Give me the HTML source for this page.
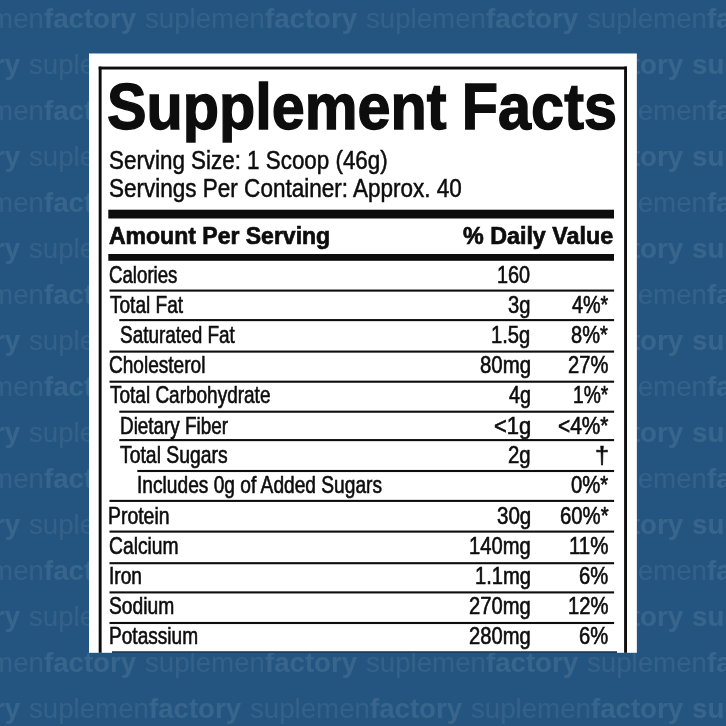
<!DOCTYPE html>
<html><head><meta charset="utf-8"><title>Supplement Facts</title>
<style>
html,body{margin:0;padding:0}
body{width:726px;height:726px;overflow:hidden;background:#245580;position:relative;font-family:"Liberation Sans",sans-serif}
.w{position:absolute;white-space:nowrap;font-size:27px;line-height:1;font-weight:400;color:rgba(255,255,255,0.075);transform-origin:0 0}
.w b{font-weight:700;color:rgba(255,255,255,0.095)}
.clip{position:absolute;left:0;top:0;width:726px;height:653px;overflow:hidden;filter:blur(0.5px)}
.t{position:absolute;white-space:nowrap;line-height:1;color:#0d0d0d;transform-origin:0 0}
.shapes{position:absolute;left:0;top:0}
</style></head><body>
<div class="w" style="left:-76.37px;top:6px;transform:scaleX(1.0244)">suplemen<b>factory</b></div>
<div class="w" style="left:144.63px;top:6px;transform:scaleX(1.0244)">suplemen<b>factory</b></div>
<div class="w" style="left:365.63px;top:6px;transform:scaleX(1.0244)">suplemen<b>factory</b></div>
<div class="w" style="left:586.63px;top:6px;transform:scaleX(1.0244)">suplemen<b>factory</b></div>
<div class="w" style="left:-191.77px;top:52px;transform:scaleX(1.0244)">suplemen<b>factory</b></div>
<div class="w" style="left:29.23px;top:52px;transform:scaleX(1.0244)">suplemen<b>factory</b></div>
<div class="w" style="left:250.23px;top:52px;transform:scaleX(1.0244)">suplemen<b>factory</b></div>
<div class="w" style="left:471.23px;top:52px;transform:scaleX(1.0244)">suplemen<b>factory</b></div>
<div class="w" style="left:692.23px;top:52px;transform:scaleX(1.0244)"><b>suplemenfactory</b></div>
<div class="w" style="left:-76.37px;top:98px;transform:scaleX(1.0244)">suplemen<b>factory</b></div>
<div class="w" style="left:586.63px;top:98px;transform:scaleX(1.0244)">suplemen<b>factory</b></div>
<div class="w" style="left:-191.77px;top:144px;transform:scaleX(1.0244)">suplemen<b>factory</b></div>
<div class="w" style="left:29.23px;top:144px;transform:scaleX(1.0244)">suplemen<b>factory</b></div>
<div class="w" style="left:471.23px;top:144px;transform:scaleX(1.0244)">suplemen<b>factory</b></div>
<div class="w" style="left:692.23px;top:144px;transform:scaleX(1.0244)"><b>suplemenfactory</b></div>
<div class="w" style="left:-76.37px;top:190px;transform:scaleX(1.0244)">suplemen<b>factory</b></div>
<div class="w" style="left:586.63px;top:190px;transform:scaleX(1.0244)">suplemen<b>factory</b></div>
<div class="w" style="left:-191.77px;top:236px;transform:scaleX(1.0244)">suplemen<b>factory</b></div>
<div class="w" style="left:29.23px;top:236px;transform:scaleX(1.0244)">suplemen<b>factory</b></div>
<div class="w" style="left:471.23px;top:236px;transform:scaleX(1.0244)">suplemen<b>factory</b></div>
<div class="w" style="left:692.23px;top:236px;transform:scaleX(1.0244)"><b>suplemenfactory</b></div>
<div class="w" style="left:-76.37px;top:282px;transform:scaleX(1.0244)">suplemen<b>factory</b></div>
<div class="w" style="left:586.63px;top:282px;transform:scaleX(1.0244)">suplemen<b>factory</b></div>
<div class="w" style="left:-191.77px;top:328px;transform:scaleX(1.0244)">suplemen<b>factory</b></div>
<div class="w" style="left:29.23px;top:328px;transform:scaleX(1.0244)">suplemen<b>factory</b></div>
<div class="w" style="left:471.23px;top:328px;transform:scaleX(1.0244)">suplemen<b>factory</b></div>
<div class="w" style="left:692.23px;top:328px;transform:scaleX(1.0244)"><b>suplemenfactory</b></div>
<div class="w" style="left:-76.37px;top:374px;transform:scaleX(1.0244)">suplemen<b>factory</b></div>
<div class="w" style="left:586.63px;top:374px;transform:scaleX(1.0244)">suplemen<b>factory</b></div>
<div class="w" style="left:-191.77px;top:420px;transform:scaleX(1.0244)">suplemen<b>factory</b></div>
<div class="w" style="left:29.23px;top:420px;transform:scaleX(1.0244)">suplemen<b>factory</b></div>
<div class="w" style="left:471.23px;top:420px;transform:scaleX(1.0244)">suplemen<b>factory</b></div>
<div class="w" style="left:692.23px;top:420px;transform:scaleX(1.0244)"><b>suplemenfactory</b></div>
<div class="w" style="left:-76.37px;top:466px;transform:scaleX(1.0244)">suplemen<b>factory</b></div>
<div class="w" style="left:586.63px;top:466px;transform:scaleX(1.0244)">suplemen<b>factory</b></div>
<div class="w" style="left:-191.77px;top:512px;transform:scaleX(1.0244)">suplemen<b>factory</b></div>
<div class="w" style="left:29.23px;top:512px;transform:scaleX(1.0244)">suplemen<b>factory</b></div>
<div class="w" style="left:471.23px;top:512px;transform:scaleX(1.0244)">suplemen<b>factory</b></div>
<div class="w" style="left:692.23px;top:512px;transform:scaleX(1.0244)"><b>suplemenfactory</b></div>
<div class="w" style="left:-76.37px;top:558px;transform:scaleX(1.0244)">suplemen<b>factory</b></div>
<div class="w" style="left:586.63px;top:558px;transform:scaleX(1.0244)">suplemen<b>factory</b></div>
<div class="w" style="left:-191.77px;top:604px;transform:scaleX(1.0244)">suplemen<b>factory</b></div>
<div class="w" style="left:29.23px;top:604px;transform:scaleX(1.0244)">suplemen<b>factory</b></div>
<div class="w" style="left:471.23px;top:604px;transform:scaleX(1.0244)">suplemen<b>factory</b></div>
<div class="w" style="left:692.23px;top:604px;transform:scaleX(1.0244)"><b>suplemenfactory</b></div>
<div class="w" style="left:-76.37px;top:650px;transform:scaleX(1.0244)">suplemen<b>factory</b></div>
<div class="w" style="left:144.63px;top:650px;transform:scaleX(1.0244)">suplemen<b>factory</b></div>
<div class="w" style="left:365.63px;top:650px;transform:scaleX(1.0244)">suplemen<b>factory</b></div>
<div class="w" style="left:586.63px;top:650px;transform:scaleX(1.0244)">suplemen<b>factory</b></div>
<div class="w" style="left:-191.77px;top:696px;transform:scaleX(1.0244)">suplemen<b>factory</b></div>
<div class="w" style="left:29.23px;top:696px;transform:scaleX(1.0244)">suplemen<b>factory</b></div>
<div class="w" style="left:250.23px;top:696px;transform:scaleX(1.0244)">suplemen<b>factory</b></div>
<div class="w" style="left:471.23px;top:696px;transform:scaleX(1.0244)">suplemen<b>factory</b></div>
<div class="w" style="left:692.23px;top:696px;transform:scaleX(1.0244)"><b>suplemenfactory</b></div>
<div class="clip">
<svg class="shapes" width="726" height="726" viewBox="0 0 726 726"><rect x="89" y="53.5" width="547.85" height="599.3" fill="#fff"/>
<rect x="98.7" y="66.6" width="2.9" height="586.2" fill="#0d0d0d"/>
<rect x="624.1" y="66.6" width="2.9" height="586.2" fill="#0d0d0d"/>
<rect x="98.7" y="66.6" width="528.3" height="2.9" fill="#0d0d0d"/>
<rect x="108.3" y="209.7" width="505.7" height="8.8" fill="#0d0d0d"/>
<rect x="108.3" y="254.0" width="505.7" height="6.8" fill="#0d0d0d"/>
<rect x="109.5" y="289.55" width="504.6" height="2.1" fill="#0d0d0d"/>
<rect x="119.3" y="319.05" width="494.8" height="2.1" fill="#0d0d0d"/>
<rect x="109.5" y="350.55" width="504.6" height="2.1" fill="#0d0d0d"/>
<rect x="109.5" y="380.65" width="504.6" height="2.1" fill="#0d0d0d"/>
<rect x="119.3" y="410.65" width="494.8" height="2.1" fill="#0d0d0d"/>
<rect x="119.3" y="439.05" width="494.8" height="2.1" fill="#0d0d0d"/>
<rect x="137.3" y="469.95" width="476.8" height="2.1" fill="#0d0d0d"/>
<rect x="109.5" y="499.85" width="504.6" height="2.1" fill="#0d0d0d"/>
<rect x="109.5" y="530.55" width="504.6" height="2.1" fill="#0d0d0d"/>
<rect x="109.5" y="562.15" width="504.6" height="2.1" fill="#0d0d0d"/>
<rect x="109.5" y="591.35" width="504.6" height="2.1" fill="#0d0d0d"/>
<rect x="109.5" y="621.95" width="504.6" height="2.1" fill="#0d0d0d"/>
<rect x="112" y="651.2" width="505" height="1.8" fill="#1f3d5f"/></svg>
<div class="t" style="left:107.10px;top:74px;font-size:65.5px;font-weight:700;-webkit-text-stroke:1.4px #0d0d0d;word-spacing:-1.4px;transform:scaleX(0.9061)">Supplement Facts</div>
<div class="t" style="left:108.65px;top:148px;font-size:25.5px;font-weight:400;-webkit-text-stroke:0.5px #0d0d0d;transform:scaleX(0.8778)">Serving Size: 1 Scoop (46g)</div>
<div class="t" style="left:108.65px;top:176px;font-size:25.5px;font-weight:400;-webkit-text-stroke:0.5px #0d0d0d;transform:scaleX(0.8828)">Servings Per Container: Approx. 40</div>
<div class="t" style="left:109.13px;top:224px;font-size:24px;font-weight:700;-webkit-text-stroke:0.7px #0d0d0d;transform:scaleX(0.9586)">Amount Per Serving</div>
<div class="t" style="left:463.46px;top:224px;font-size:24px;font-weight:700;-webkit-text-stroke:0.7px #0d0d0d;transform:scaleX(0.9700)">% Daily Value</div>
<div class="t" style="left:108.69px;top:264px;font-size:23.2px;font-weight:400;-webkit-text-stroke:0.6px #0d0d0d;transform:scaleX(0.8048)">Calories</div>
<div class="t" style="left:497.20px;top:264px;font-size:23.2px;font-weight:400;-webkit-text-stroke:0.6px #0d0d0d;transform:scaleX(0.8556)">160</div>
<div class="t" style="left:109.79px;top:294px;font-size:23.2px;font-weight:400;-webkit-text-stroke:0.6px #0d0d0d;transform:scaleX(0.8215)">Total Fat</div>
<div class="t" style="left:508.40px;top:294px;font-size:23.2px;font-weight:400;-webkit-text-stroke:0.6px #0d0d0d;transform:scaleX(0.8700)">3g</div>
<div class="t" style="left:571.87px;top:294px;font-size:23.2px;font-weight:400;-webkit-text-stroke:0.6px #0d0d0d;transform:scaleX(0.8530)">4%*</div>
<div class="t" style="left:119.98px;top:324px;font-size:23.2px;font-weight:400;-webkit-text-stroke:0.6px #0d0d0d;transform:scaleX(0.8172)">Saturated Fat</div>
<div class="t" style="left:491.44px;top:324px;font-size:23.2px;font-weight:400;-webkit-text-stroke:0.6px #0d0d0d;transform:scaleX(0.8700)">1.5g</div>
<div class="t" style="left:571.44px;top:324px;font-size:23.2px;font-weight:400;-webkit-text-stroke:0.6px #0d0d0d;transform:scaleX(0.8634)">8%*</div>
<div class="t" style="left:108.67px;top:354px;font-size:23.2px;font-weight:400;-webkit-text-stroke:0.6px #0d0d0d;transform:scaleX(0.8218)">Cholesterol</div>
<div class="t" style="left:479.72px;top:354px;font-size:23.2px;font-weight:400;-webkit-text-stroke:0.6px #0d0d0d;transform:scaleX(0.8811)">80mg</div>
<div class="t" style="left:568.22px;top:354px;font-size:23.2px;font-weight:400;-webkit-text-stroke:0.6px #0d0d0d;transform:scaleX(0.8678)">27%</div>
<div class="t" style="left:109.79px;top:384px;font-size:23.2px;font-weight:400;-webkit-text-stroke:0.6px #0d0d0d;transform:scaleX(0.8190)">Total Carbohydrate</div>
<div class="t" style="left:508.87px;top:384px;font-size:23.2px;font-weight:400;-webkit-text-stroke:0.6px #0d0d0d;transform:scaleX(0.8505)">4g</div>
<div class="t" style="left:572.85px;top:384px;font-size:23.2px;font-weight:400;-webkit-text-stroke:0.6px #0d0d0d;transform:scaleX(0.8298)">1%*</div>
<div class="t" style="left:120.07px;top:415px;font-size:23.2px;font-weight:400;-webkit-text-stroke:0.6px #0d0d0d;transform:scaleX(0.8138)">Dietary Fiber</div>
<div class="t" style="left:493.72px;top:415px;font-size:23.2px;font-weight:400;-webkit-text-stroke:0.6px #0d0d0d;transform:scaleX(0.9479)">&lt;1g</div>
<div class="t" style="left:557.58px;top:415px;font-size:23.2px;font-weight:400;-webkit-text-stroke:0.6px #0d0d0d;transform:scaleX(0.8991)">&lt;4%*</div>
<div class="t" style="left:120.48px;top:444px;font-size:23.2px;font-weight:400;-webkit-text-stroke:0.6px #0d0d0d;transform:scaleX(0.8360)">Total Sugars</div>
<div class="t" style="left:508.20px;top:444px;font-size:23.2px;font-weight:400;-webkit-text-stroke:0.6px #0d0d0d;transform:scaleX(0.8783)">2g</div>
<div class="t" style="left:595.47px;top:444px;font-size:23.2px;font-weight:400;-webkit-text-stroke:0.6px #0d0d0d;transform:scaleX(1.0872)">†</div>
<div class="t" style="left:137.24px;top:474px;font-size:23.2px;font-weight:400;-webkit-text-stroke:0.6px #0d0d0d;transform:scaleX(0.8265)">Includes 0g of Added Sugars</div>
<div class="t" style="left:570.92px;top:474px;font-size:23.2px;font-weight:400;-webkit-text-stroke:0.6px #0d0d0d;transform:scaleX(0.8756)">0%*</div>
<div class="t" style="left:108.03px;top:505px;font-size:23.2px;font-weight:400;-webkit-text-stroke:0.6px #0d0d0d;transform:scaleX(0.8371)">Protein</div>
<div class="t" style="left:496.51px;top:505px;font-size:23.2px;font-weight:400;-webkit-text-stroke:0.6px #0d0d0d;transform:scaleX(0.8855)">30g</div>
<div class="t" style="left:559.50px;top:505px;font-size:23.2px;font-weight:400;-webkit-text-stroke:0.6px #0d0d0d;transform:scaleX(0.8763)">60%*</div>
<div class="t" style="left:108.66px;top:535px;font-size:23.2px;font-weight:400;-webkit-text-stroke:0.6px #0d0d0d;transform:scaleX(0.8309)">Calcium</div>
<div class="t" style="left:469.08px;top:535px;font-size:23.2px;font-weight:400;-webkit-text-stroke:0.6px #0d0d0d;transform:scaleX(0.8694)">140mg</div>
<div class="t" style="left:569.05px;top:535px;font-size:23.2px;font-weight:400;-webkit-text-stroke:0.6px #0d0d0d;transform:scaleX(0.8833)">11%</div>
<div class="t" style="left:108.84px;top:565px;font-size:23.2px;font-weight:400;-webkit-text-stroke:0.6px #0d0d0d;transform:scaleX(0.8248)">Iron</div>
<div class="t" style="left:474.69px;top:565px;font-size:23.2px;font-weight:400;-webkit-text-stroke:0.6px #0d0d0d;transform:scaleX(0.8700)">1.1mg</div>
<div class="t" style="left:579.21px;top:565px;font-size:23.2px;font-weight:400;-webkit-text-stroke:0.6px #0d0d0d;transform:scaleX(0.8700)">6%</div>
<div class="t" style="left:108.87px;top:595px;font-size:23.2px;font-weight:400;-webkit-text-stroke:0.6px #0d0d0d;transform:scaleX(0.8303)">Sodium</div>
<div class="t" style="left:469.03px;top:595px;font-size:23.2px;font-weight:400;-webkit-text-stroke:0.6px #0d0d0d;transform:scaleX(0.8700)">270mg</div>
<div class="t" style="left:568.12px;top:595px;font-size:23.2px;font-weight:400;-webkit-text-stroke:0.6px #0d0d0d;transform:scaleX(0.8700)">12%</div>
<div class="t" style="left:108.55px;top:625px;font-size:23.2px;font-weight:400;-webkit-text-stroke:0.6px #0d0d0d;transform:scaleX(0.8229)">Potassium</div>
<div class="t" style="left:469.03px;top:625px;font-size:23.2px;font-weight:400;-webkit-text-stroke:0.6px #0d0d0d;transform:scaleX(0.8700)">280mg</div>
<div class="t" style="left:579.21px;top:625px;font-size:23.2px;font-weight:400;-webkit-text-stroke:0.6px #0d0d0d;transform:scaleX(0.8700)">6%</div>
</div>
</body></html>
